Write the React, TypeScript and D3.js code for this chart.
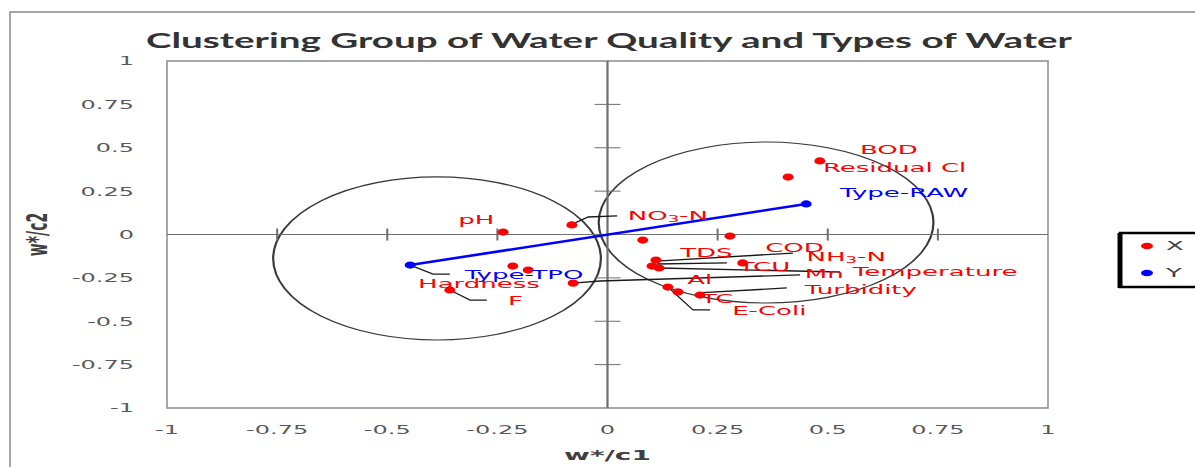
import { useEffect, useRef } from "react";
import * as d3 from "d3";

const title = "Clustering Group of Water Quality and Types of Water";

// series X: water quality parameters (w*/c1, w*/c2)
const paramNames = [
  "BOD", "Residual Cl", "pH", "NO3-N", "TDS", "COD", "NH3-N", "Mn", "Al",
  "TCU", "Temperature", "Turbidity", "E-Coli", "TC", "Hardness", "", "F",
];
const paramC1 = [
  0.482, 0.41, -0.237, -0.081, 0.08, 0.278, 0.11, 0.101, 0.117,
  0.307, -0.078, 0.137, 0.16, 0.21, -0.215, -0.18, -0.358,
];
const paramC2 = [
  0.424, 0.331, 0.014, 0.055, -0.032, -0.009, -0.147, -0.182, -0.193,
  -0.164, -0.28, -0.303, -0.331, -0.349, -0.182, -0.205, -0.32,
];

// series Y: types of water
const typeNames = ["Type-TPO", "Type-RAW"];
const typeC1 = [-0.448, 0.451];
const typeC2 = [-0.176, 0.176];

const ticks = [-1, -0.75, -0.5, -0.25, 0, 0.25, 0.5, 0.75, 1];
const legendNames = ["X", "Y"];

// the two group circles, in axis units
const groupC1 = [-0.387, 0.36];
const groupC2 = [-0.138, 0.069];
const groupR1 = [0.372, 0.38];
const groupR2 = [0.47, 0.464];

// where the data labels were dragged to (left edge, middle), axis units
const labelAt: Record<string, [number, number]> = {
  BOD: [0.573, 0.487],
  "Residual Cl": [0.489, 0.383],
  "Type-RAW": [0.528, 0.239],
  pH: [-0.339, 0.084],
  "NO3-N": [0.046, 0.107],
  TDS: [0.165, -0.102],
  COD: [0.358, -0.078],
  "NH3-N": [0.452, -0.13],
  TCU: [0.298, -0.182],
  Mn: [0.448, -0.228],
  Temperature: [0.557, -0.216],
  Al: [0.181, -0.262],
  Turbidity: [0.448, -0.32],
  TC: [0.212, -0.372],
  "E-Coli": [0.283, -0.441],
  "Type-TPO": [-0.324, -0.233],
  Hardness: [-0.43, -0.285],
  F: [-0.226, -0.378],
};

// leader lines from points to moved labels, axis units
const leaders: [number, number][][] = [
  [[-0.078, 0.061], [-0.044, 0.101], [0.022, 0.107]],
  [[0.112, -0.153], [0.421, -0.107]],
  [[0.112, -0.17], [0.271, -0.164]],
  [[0.119, -0.193], [0.528, -0.216]],
  [[-0.078, -0.28], [-0.017, -0.268], [0.437, -0.233]],
  [[0.205, -0.337], [0.407, -0.308]],
  [[0.137, -0.303], [0.194, -0.435], [0.233, -0.435]],
  [[-0.448, -0.176], [-0.396, -0.228], [-0.358, -0.228]],
  [[-0.358, -0.32], [-0.312, -0.378], [-0.274, -0.378]],
];

const W = 1195;
const H = 467;
const SX = 2; // the source picture is stretched 2x horizontally
const FONT = "'DejaVu Sans', Verdana, sans-serif";

const App = () => {
  const svgRef = useRef<SVGSVGElement>(null);

  useEffect(() => {
    const svg = d3.select(svgRef.current);
    svg.selectAll("*").remove();

    const plot = { left: 167, right: 1048, top: 61, bottom: 408 };
    const x = d3.scaleLinear().domain([-1, 1]).range([plot.left, plot.right]);
    const y = d3.scaleLinear().domain([-1, 1]).range([plot.bottom, plot.top]);
    const grey = "#8a8a8a";

    const addText = (px: number, py: number, str: string, size: number, fill: string) =>
      svg
        .append("text")
        .attr("transform", `translate(${px},${py}) scale(${SX},1)`)
        .attr("dominant-baseline", "central")
        .attr("font-family", FONT)
        .attr("font-size", size)
        .attr("fill", fill)
        .text(str);

    svg.append("rect").attr("width", W).attr("height", H).attr("fill", "#fff");

    // chart area border (runs off the picture right and bottom)
    svg
      .append("path")
      .attr("d", `M${W + 5},12 H10 V${H + 5}`)
      .attr("fill", "none")
      .attr("stroke", grey)
      .attr("stroke-width", 1.5);

    // plot area border
    svg
      .append("rect")
      .attr("x", plot.left)
      .attr("y", plot.top)
      .attr("width", plot.right - plot.left)
      .attr("height", plot.bottom - plot.top)
      .attr("fill", "none")
      .attr("stroke", grey)
      .attr("stroke-width", 1.5);

    // title
    svg
      .append("text")
      .attr("x", 146)
      .attr("y", 48)
      .attr("textLength", 926)
      .attr("lengthAdjust", "spacingAndGlyphs")
      .attr("font-family", "Lato, 'Open Sans', sans-serif")
      .attr("font-weight", "bold")
      .attr("font-size", 21)
      .attr("fill", "#333")
      .text(title);

    // tick labels on the outside
    ticks.forEach((t) => {
      addText(134, y(t), String(t), 12, "#595959").attr("text-anchor", "end");
      addText(x(t), 430, String(t), 12, "#595959").attr("text-anchor", "middle");
    });

    // axis titles
    addText(x(0), 455, "w*/c1", 14, "#404040")
      .attr("text-anchor", "middle")
      .attr("font-weight", "bold");
    svg
      .append("text")
      .attr("transform", `translate(37,${y(0)}) scale(${SX},1) rotate(-90)`)
      .attr("text-anchor", "middle")
      .attr("dominant-baseline", "central")
      .attr("font-family", FONT)
      .attr("font-size", 14)
      .attr("font-weight", "bold")
      .attr("fill", "#404040")
      .text("w*/c2");

    // group circles
    groupC1.forEach((c, i) => {
      svg
        .append("g")
        .attr("transform", `translate(${x(c)},${y(groupC2[i])}) scale(${SX},1)`)
        .append("ellipse")
        .attr("rx", (x(groupR1[i]) - x(0)) / SX)
        .attr("ry", y(0) - y(groupR2[i]))
        .attr("fill", "none")
        .attr("stroke", "#3a3a3a")
        .attr("stroke-width", 1.1);
    });

    // axes crossing at zero, with cross tick marks
    svg
      .append("line")
      .attr("x1", plot.left)
      .attr("x2", plot.right)
      .attr("y1", y(0))
      .attr("y2", y(0))
      .attr("stroke", "#6f6f6f")
      .attr("stroke-width", 1.2);
    svg
      .append("line")
      .attr("x1", x(0))
      .attr("x2", x(0))
      .attr("y1", plot.top)
      .attr("y2", plot.bottom)
      .attr("stroke", "#6f6f6f")
      .attr("stroke-width", 2.2);
    ticks
      .filter((t) => t !== 0 && Math.abs(t) !== 1)
      .forEach((t) => {
        svg
          .append("line")
          .attr("x1", x(t))
          .attr("x2", x(t))
          .attr("y1", y(0) - 6)
          .attr("y2", y(0) + 6)
          .attr("stroke", "#6f6f6f")
          .attr("stroke-width", 2);
        svg
          .append("line")
          .attr("x1", x(0) - 13)
          .attr("x2", x(0) + 13)
          .attr("y1", y(t))
          .attr("y2", y(t))
          .attr("stroke", "#6f6f6f")
          .attr("stroke-width", 1);
      });

    // leader lines
    const leaderLine = d3
      .line<[number, number]>()
      .x((d) => x(d[0]))
      .y((d) => y(d[1]));
    leaders.forEach((l) => {
      svg
        .append("path")
        .attr("d", leaderLine(l))
        .attr("fill", "none")
        .attr("stroke", "#1a1a1a")
        .attr("stroke-width", 1.3);
    });

    // Y series line
    const typePts = typeC1.map((c, i) => [c, typeC2[i]] as [number, number]);
    svg
      .append("path")
      .attr("d", leaderLine(typePts))
      .attr("fill", "none")
      .attr("stroke", "#0000ff")
      .attr("stroke-width", 2.6);

    const dot = (px: number, py: number, fill: string) =>
      svg
        .append("ellipse")
        .attr("cx", px)
        .attr("cy", py)
        .attr("rx", 5.5)
        .attr("ry", 3.6)
        .attr("fill", fill);

    paramC1.forEach((c, i) => dot(x(c), y(paramC2[i]), "#ff0000"));
    typeC1.forEach((c, i) => dot(x(c), y(typeC2[i]), "#0000ff"));

    // data labels, subscript digits in NO3-N / NH3-N
    const label = (name: string, fill: string) => {
      const pos = labelAt[name];
      if (!name || !pos) return;
      const t = addText(x(pos[0]), y(pos[1]), "", 13, fill);
      const m = name.match(/^([A-Z]+)(\d)(-.*)$/);
      if (m) {
        t.append("tspan").text(m[1]);
        t.append("tspan").attr("font-size", 9).attr("dy", 3).text(m[2]);
        t.append("tspan").attr("dy", -3).text(m[3]);
      } else {
        t.text(name);
      }
    };
    paramNames.forEach((n) => label(n, "#ff0000"));
    typeNames.forEach((n) => label(n, "#0000ff"));

    // legend
    svg
      .append("rect")
      .attr("x", 1120)
      .attr("y", 233)
      .attr("width", 100)
      .attr("height", 54)
      .attr("fill", "#fff")
      .attr("stroke", "#000")
      .attr("stroke-width", 2.5);
    svg
      .append("line")
      .attr("x1", 1120)
      .attr("x2", 1120)
      .attr("y1", 233)
      .attr("y2", 288)
      .attr("stroke", "#000")
      .attr("stroke-width", 5);
    legendNames.forEach((n, i) => {
      const ly = 246 + i * 27;
      dot(1147, ly, i === 0 ? "#ff0000" : "#0000ff").attr("rx", 6).attr("ry", 3.3);
      addText(1166, ly, n, 13, "#404040");
    });
  }, []);

  return (
    <svg
      ref={svgRef}
      width={W}
      height={H}
      style={{ position: "absolute", left: 0, top: 0 }}
    ></svg>
  );
};

export default App;
